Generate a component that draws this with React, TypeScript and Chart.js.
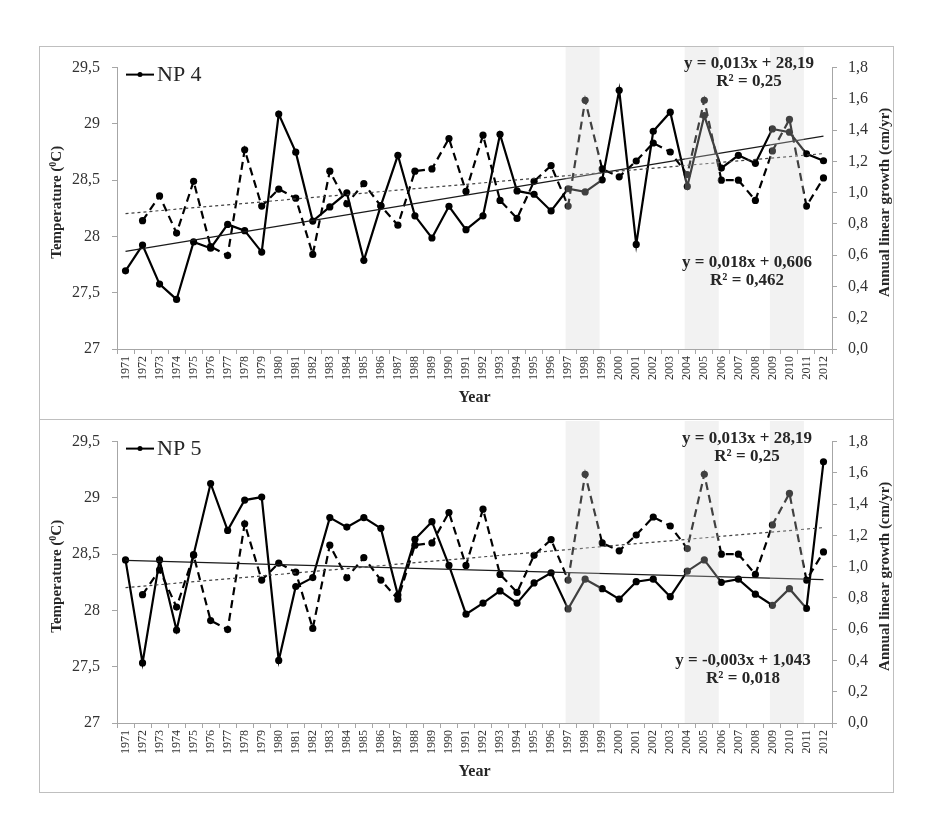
import React, { useEffect, useRef } from 'react';
import { Chart, registerables } from 'chart.js';
Chart.register(...registerables);

// ---------------- DATA ----------------
const years = [
  '1971','1972','1973','1974','1975','1976','1977','1978','1979','1980',
  '1981','1982','1983','1984','1985','1986','1987','1988','1989','1990',
  '1991','1992','1993','1994','1995','1996','1997','1998','1999','2000',
  '2001','2002','2003','2004','2005','2006','2007','2008','2009','2010',
  '2011','2012',
];

// Temperature (°C), dashed line, left axis (same in both panels)
const temperature = [
  null, 28.14, 28.36, 28.03, 28.49, 27.91, 27.83, 28.77, 28.27, 28.42,
  28.34, 27.84, 28.58, 28.29, 28.47, 28.27, 28.10, 28.58, 28.60, 28.87,
  28.40, 28.90, 28.32, 28.16, 28.49, 28.63, 28.27, 29.21, 28.60, 28.53,
  28.67, 28.83, 28.75, 28.55, 29.21, 28.50, 28.50, 28.32, 28.76, 29.04,
  28.27, 28.52,
];

// Annual linear growth (cm/yr), solid line, right axis
const growthNP4 = [
  0.50, 0.665, 0.415, 0.317, 0.685, 0.645, 0.797, 0.757, 0.62, 1.503,
  1.259, 0.818, 0.909, 0.999, 0.567, 0.917, 1.239, 0.852, 0.71, 0.913,
  0.763, 0.852, 1.373, 1.011, 0.99, 0.883, 1.025, 1.005, 1.082, 1.655,
  0.669, 1.393, 1.515, 1.04, 1.493, 1.157, 1.239, 1.188, 1.408, 1.387,
  1.249, 1.204,
];

const growthNP5 = [
  1.043, 0.384, 1.043, 0.594, 1.077, 1.532, 1.232, 1.426, 1.445, 0.40,
  0.873, 0.93, 1.314, 1.253, 1.314, 1.245, 0.818, 1.175, 1.288, 1.008,
  0.696, 0.767, 0.845, 0.767, 0.896, 0.961, 0.73, 0.92, 0.859, 0.792,
  0.904, 0.92, 0.808, 0.971, 1.043, 0.90, 0.92, 0.824, 0.753, 0.859,
  0.733, 1.671,
];

// Linear trend equations shown on the chart
const tempTrend = { slope: 0.013, intercept: 28.19 };
const np4Trend = { slope: 0.018, intercept: 0.606 };
const np5Trend = { slope: -0.003, intercept: 1.043 };

// Shaded periods (from year to year)
const bandStarts = ['1997', '2004', '2009'];
const bandEnds = ['1999', '2006', '2011'];

// Axis ticks
const leftTicks = [27, 27.5, 28, 28.5, 29, 29.5];
const rightTicks = [0, 0.2, 0.4, 0.6, 0.8, 1.0, 1.2, 1.4, 1.6, 1.8];

// Text
const panels = [
  {
    name: 'NP 4',
    growth: growthNP4,
    trend: np4Trend,
    tempEq: ['y = 0,013x + 28,19', 'R² = 0,25'],
    growthEq: ['y = 0,018x + 0,606', 'R² = 0,462'],
  },
  {
    name: 'NP 5',
    growth: growthNP5,
    trend: np5Trend,
    tempEq: ['y = 0,013x + 28,19', 'R² = 0,25'],
    growthEq: ['y = -0,003x + 1,043', 'R² = 0,018'],
  },
];

// ---------------- CHART ----------------
const SERIF = '"Liberation Serif", "Times New Roman", serif';
const AXIS_GRAY = '#a6a6a6';
const TEXT = '#262626';

function trendPoints(t: { slope: number; intercept: number }) {
  const n = years.length;
  return [
    { x: years[0], y: t.intercept + t.slope * 1 },
    { x: years[n - 1], y: t.intercept + t.slope * n },
  ];
}

function drawRuns(ctx: CanvasRenderingContext2D, runs: any[], cx: number, cy: number, rot: number) {
  ctx.save();
  ctx.translate(cx, cy);
  ctx.rotate(rot);
  ctx.textBaseline = 'middle';
  ctx.textAlign = 'left';
  let total = 0;
  runs.forEach((r) => {
    ctx.font = r.font;
    total += ctx.measureText(r.text).width;
  });
  let pos = -total / 2;
  runs.forEach((r) => {
    ctx.font = r.font;
    ctx.fillStyle = TEXT;
    ctx.fillText(r.text, pos, r.dy || 0);
    pos += ctx.measureText(r.text).width;
  });
  ctx.restore();
}

function makeDeco(panel: any, eqPos: any) {
  return {
    id: 'deco',
    afterDatasetsDraw(chart: any) {
      const ctx = chart.ctx as CanvasRenderingContext2D;
      const xs = chart.scales.x;
      const area = chart.chartArea;
      const w = xs.getPixelForValue(1) - xs.getPixelForValue(0);
      ctx.save();
      ctx.fillStyle = 'rgba(212,212,212,0.3)';
      bandStarts.forEach((s, i) => {
        const x0 = xs.getPixelForValue(years.indexOf(s)) - 0.15 * w;
        const x1 = xs.getPixelForValue(years.indexOf(bandEnds[i])) - 0.15 * w;
        ctx.fillRect(x0, 1, x1 - x0, area.bottom - 1);
      });
      ctx.restore();
    },
    afterDraw(chart: any) {
      const ctx = chart.ctx as CanvasRenderingContext2D;
      const area = chart.chartArea;
      ctx.save();
      // equations
      ctx.fillStyle = TEXT;
      ctx.textAlign = 'center';
      ctx.textBaseline = 'middle';
      ctx.font = `bold 17px ${SERIF}`;
      ctx.fillText(panel.tempEq[0], eqPos.tx, eqPos.ty);
      ctx.fillText(panel.tempEq[1], eqPos.tx, eqPos.ty + 18);
      ctx.fillText(panel.growthEq[0], eqPos.gx, eqPos.gy);
      ctx.fillText(panel.growthEq[1], eqPos.gx, eqPos.gy + 18);
      // legend
      const ly = area.top + 7;
      const lx0 = area.left + 9;
      ctx.strokeStyle = '#000';
      ctx.lineWidth = 2;
      ctx.beginPath();
      ctx.moveTo(lx0, ly);
      ctx.lineTo(lx0 + 28, ly);
      ctx.stroke();
      ctx.fillStyle = '#000';
      ctx.beginPath();
      ctx.arc(lx0 + 14, ly, 2.5, 0, Math.PI * 2);
      ctx.fill();
      ctx.fillStyle = TEXT;
      ctx.textAlign = 'left';
      ctx.font = `22px ${SERIF}`;
      ctx.fillText(panel.name, lx0 + 31, ly + 1);
      // x title
      ctx.textAlign = 'center';
      ctx.font = `bold 16px ${SERIF}`;
      ctx.fillText('Year', (area.left + area.right) / 2, area.bottom + 49);
      ctx.restore();
      // y titles
      const midY = (area.top + area.bottom) / 2;
      const bf = `bold 15px ${SERIF}`;
      const sf = `bold 10px ${SERIF}`;
      drawRuns(ctx, [
        { text: 'Temperature (', font: bf },
        { text: '0', font: sf, dy: -4 },
        { text: 'C)', font: bf },
      ], 18, midY - 6, -Math.PI / 2);
      drawRuns(ctx, [{ text: 'Annual linear growth (cm/yr)', font: `bold 15px ${SERIF}` }], 846, midY - 6, -Math.PI / 2);
    },
  };
}

function buildChart(canvas: HTMLCanvasElement, panel: any, eqPos: any) {
  return new Chart(canvas, {
    type: 'line',
    data: {
      labels: years,
      datasets: [
        {
          label: 'Temperature trend',
          data: trendPoints(tempTrend) as any,
          yAxisID: 'yL',
          borderColor: '#404040',
          borderWidth: 1.2,
          borderDash: [3, 3],
          pointRadius: 0,
          fill: false,
        },
        {
          label: panel.name + ' trend',
          data: trendPoints(panel.trend) as any,
          yAxisID: 'yR',
          borderColor: '#1a1a1a',
          borderWidth: 1.2,
          pointRadius: 0,
          fill: false,
        },
        {
          label: 'Temperature',
          data: temperature,
          yAxisID: 'yL',
          borderColor: '#000',
          borderWidth: 2.2,
          borderDash: [8, 5],
          pointRadius: 3.6,
          pointBackgroundColor: '#000',
          pointBorderColor: '#000',
          pointBorderWidth: 0,
          fill: false,
          spanGaps: false,
        },
        {
          label: panel.name,
          data: panel.growth,
          yAxisID: 'yR',
          borderColor: '#000',
          borderWidth: 2.2,
          pointRadius: 3.6,
          pointBackgroundColor: '#000',
          pointBorderColor: '#000',
          pointBorderWidth: 0,
          fill: false,
        },
      ],
    },
    options: {
      responsive: false,
      animation: false,
      events: [],
      layout: { padding: { top: 8, left: 0, right: 0, bottom: 0 } },
      plugins: { legend: { display: false }, tooltip: { enabled: false }, title: { display: false } },
      scales: {
        x: {
          type: 'category',
          offset: true,
          grid: { offset: true, drawOnChartArea: false, color: AXIS_GRAY, tickLength: 5 },
          border: { color: AXIS_GRAY },
          ticks: {
            autoSkip: false,
            minRotation: 90,
            maxRotation: 90,
            padding: 2,
            color: '#333',
            font: { family: SERIF, size: 12 },
          },
          afterFit: (s: any) => { s.height = 70; },
        },
        yL: {
          type: 'linear',
          position: 'left',
          min: 27,
          max: 29.5,
          grid: { drawOnChartArea: false, color: AXIS_GRAY, tickLength: 5 },
          border: { color: AXIS_GRAY },
          afterBuildTicks: (s: any) => { s.ticks = leftTicks.map((v) => ({ value: v })); },
          ticks: {
            padding: 12,
            color: '#333',
            font: { family: SERIF, size: 16 },
            callback: (v: any) => String(Math.round(Number(v) * 10) / 10).replace('.', ','),
          },
          afterFit: (s: any) => { s.width = 78; },
        },
        yR: {
          type: 'linear',
          position: 'right',
          min: 0,
          max: 1.8,
          grid: { drawOnChartArea: false, color: AXIS_GRAY, tickLength: 5 },
          border: { color: AXIS_GRAY },
          afterBuildTicks: (s: any) => { s.ticks = rightTicks.map((v) => ({ value: v })); },
          ticks: {
            padding: 11,
            color: '#333',
            font: { family: SERIF, size: 16 },
            callback: (v: any) => Number(v).toFixed(1).replace('.', ','),
          },
          afterFit: (s: any) => { s.width = 62; },
        },
      },
    },
    plugins: [makeDeco(panel, eqPos)],
  } as any);
}

export default function App() {
  const ref1 = useRef<HTMLCanvasElement>(null);
  const ref2 = useRef<HTMLCanvasElement>(null);

  useEffect(() => {
    const c1 = buildChart(ref1.current!, panels[0], { tx: 710, ty: 18, gx: 708, gy: 217 });
    const c2 = buildChart(ref2.current!, panels[1], { tx: 708, ty: 19, gx: 704, gy: 241 });
    return () => {
      c1.destroy();
      c2.destroy();
    };
  }, []);

  return (
    <div style={{ position: 'absolute', left: 0, top: 0, width: 930, height: 832, background: '#fff' }}>
      <div style={{ position: 'absolute', left: 39, top: 46, width: 855, height: 747, border: '1px solid #bfbfbf', boxSizing: 'border-box' }} />
      <div style={{ position: 'absolute', left: 39, top: 419, width: 855, height: 1, background: '#bfbfbf' }} />
      <canvas ref={ref1} width={855} height={373} style={{ position: 'absolute', left: 39, top: 46 }} />
      <canvas ref={ref2} width={855} height={373} style={{ position: 'absolute', left: 39, top: 420 }} />
    </div>
  );
}
